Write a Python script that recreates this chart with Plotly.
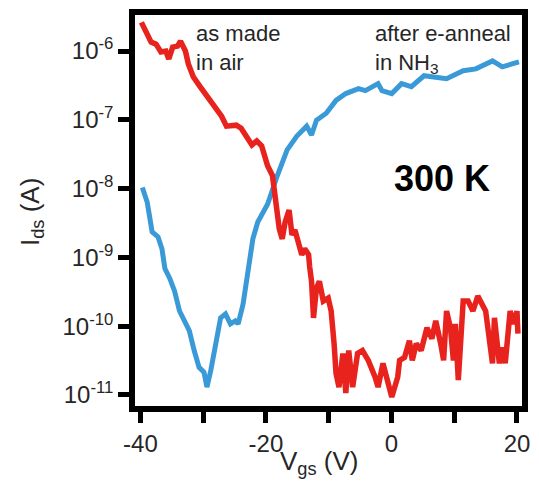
import plotly.graph_objects as go

# Gate-voltage sweeps (V) and drain current (log10 A)
vgs_anneal = [-39.69, -38.91, -38.13, -37.19, -36.57, -36.10, -35.32, -34.55, -33.77, -32.99,
              -32.21, -31.43, -30.65, -29.87, -29.40, -28.78, -28.00, -27.22, -26.44, -25.66,
              -24.88, -24.42, -23.64, -22.86, -22.08, -21.30, -20.52, -19.74, -18.18, -16.62,
              -15.07, -13.51, -12.73, -11.95, -10.39, -8.83, -7.27, -5.25, -4.16, -2.13,
              -1.51, 0.05, 1.61, 3.17, 5.19, 7.22, 8.78, 11.43, 13.45, 16.10,
              17.66, 19.22, 20.31]
log_ids_anneal = [-7.983, -8.198, -8.629, -8.701, -8.874, -9.161, -9.305, -9.491, -9.779, -9.922,
                  -10.066, -10.353, -10.598, -10.670, -10.885, -10.641, -10.253, -9.879, -9.822, -9.966,
                  -9.922, -9.966, -9.678, -9.204, -8.730, -8.486, -8.342, -8.227, -7.810, -7.437,
                  -7.236, -7.092, -7.221, -7.006, -6.905, -6.718, -6.618, -6.546, -6.575, -6.474,
                  -6.575, -6.618, -6.474, -6.517, -6.359, -6.374, -6.402, -6.287, -6.259, -6.144,
                  -6.230, -6.187, -6.158]

vgs_air = [-39.84, -39.06, -38.29, -37.51, -36.73, -35.95, -35.48, -34.86, -34.08, -33.61,
           -32.83, -32.36, -31.58, -30.49, -29.71, -29.25, -28.16, -27.07, -26.29, -25.51,
           -24.73, -23.95, -23.01, -22.23, -21.46, -20.68, -20.21, -19.74, -18.96, -18.65,
           -18.49, -18.18, -17.87, -17.40, -16.94, -16.31, -16.16, -15.85, -15.38, -14.75,
           -14.29, -13.82, -13.20, -13.04, -12.73, -12.42, -11.95, -11.48, -10.86, -10.08,
           -9.61, -9.14, -8.83, -8.36, -7.74, -7.27, -6.81, -6.18, -5.71, -5.40,
           -4.62, -3.69, -2.60, -2.13, -1.35, -0.57, 0.05, 0.99, 1.30, 2.08,
           2.86, 3.32, 3.95, 4.73, 5.66, 6.44, 7.06, 7.84, 8.31, 8.78,
           9.40, 9.87, 10.18, 10.65, 11.11, 11.43, 12.21, 12.98, 13.76, 14.54,
           15.01, 16.10, 16.41, 17.19, 17.66, 18.13, 18.91, 19.53, 20.00, 20.15]
log_ids_air = [-5.583, -5.727, -5.871, -5.899, -6.014, -6.000, -6.115, -5.943, -5.928, -5.856,
               -6.000, -6.187, -6.374, -6.517, -6.618, -6.661, -6.805, -6.948, -7.092, -7.092,
               -7.078, -7.121, -7.264, -7.365, -7.307, -7.379, -7.523, -7.667, -7.810, -8.011,
               -8.198, -8.443, -8.586, -8.730, -8.486, -8.313, -8.529, -8.672, -8.601, -8.773,
               -8.960, -8.874, -8.960, -9.132, -9.348, -9.879, -9.448, -9.348, -9.635, -9.592,
               -9.779, -10.253, -10.684, -10.885, -10.397, -10.971, -10.353, -10.885, -10.641, -10.397,
               -10.353, -10.497, -10.741, -10.885, -10.540, -10.784, -11.029, -10.741, -10.497, -10.454,
               -10.210, -10.497, -10.253, -10.353, -10.023, -10.181, -9.922, -10.253, -10.497, -9.779,
               -10.023, -10.497, -9.966, -10.784, -9.966, -9.635, -9.635, -9.779, -9.563, -9.678,
               -9.779, -10.540, -9.879, -10.540, -10.310, -10.540, -9.779, -9.966, -9.779, -10.109]

x_ticks = [-40, -30, -20, -10, 0, 10, 20]
x_tick_text = ["-40", "", "-20", "", "0", "", "20"]
y_exponents = [-6, -7, -8, -9, -10, -11]

ids_anneal = [10 ** v for v in log_ids_anneal]
ids_air = [10 ** v for v in log_ids_air]

FONT = "Liberation Sans, Arial, Helvetica, sans-serif"
TEXT = "#262626"

W, H = 539, 488
L, R, T, B = 134.5, 9, 10.5, 82


def px_to_paper(px, py):
    """Pixel position on the page -> paper fraction of the plot area."""
    return (px - L) / (W - L - R), 1 - (py - T) / (H - T - B)


fig = go.Figure()
fig.add_trace(go.Scatter(x=vgs_anneal, y=ids_anneal, mode="lines",
                         line=dict(color="#3a9ad8", width=5), showlegend=False))
fig.add_trace(go.Scatter(x=vgs_air, y=ids_air, mode="lines",
                         line=dict(color="#e8231e", width=5.5), showlegend=False))

axis_common = dict(showline=True, linecolor="black", linewidth=5.5, mirror=True,
                   ticks="outside", ticklen=11, tickwidth=5, tickcolor="black",
                   showgrid=False, zeroline=False,
                   tickfont=dict(family=FONT, size=24, color=TEXT))

fig.update_xaxes(range=[-40.86, 20.8], tickvals=x_ticks, ticktext=x_tick_text,
                 **axis_common)
fig.update_yaxes(type="log", range=[-11.16, -5.476],
                 tickvals=[10 ** e for e in y_exponents],
                 ticktext=[f"10<sup>{e}</sup>" for e in y_exponents],
                 **axis_common)

fig.add_annotation(x=-31.4, y=-5.53, xref="x", yref="y", text="as made<br>in air",
                   showarrow=False, xanchor="left", yanchor="top", align="left",
                   font=dict(family=FONT, size=22, color=TEXT))
fig.add_annotation(x=-2.9, y=-5.53, xref="x", yref="y",
                   text="after e-anneal<br>in NH<sub>3</sub>",
                   showarrow=False, xanchor="left", yanchor="top", align="left",
                   font=dict(family=FONT, size=22, color=TEXT))

kx, ky = px_to_paper(448, 176)
fig.add_annotation(x=kx, y=ky, xref="paper", yref="paper", text="<b>300 K</b>",
                   showarrow=False, xanchor="center", yanchor="middle",
                   font=dict(family=FONT, size=36, color="black"))

ix, iy = px_to_paper(28, 210)
fig.add_annotation(x=ix, y=iy, xref="paper", yref="paper", text="I<sub>ds</sub> (A)",
                   showarrow=False, textangle=-90, xanchor="center", yanchor="middle",
                   font=dict(family=FONT, size=26, color=TEXT))
vx, vy = px_to_paper(323, 463)
fig.add_annotation(x=vx, y=vy, xref="paper", yref="paper", text="V<sub>gs</sub> (V)",
                   showarrow=False, xanchor="center", yanchor="middle",
                   font=dict(family=FONT, size=26, color=TEXT))

fig.update_layout(width=W, height=H, margin=dict(l=L, r=R, t=T, b=B),
                  paper_bgcolor="white", plot_bgcolor="white")

fig.write_html("out.html")
